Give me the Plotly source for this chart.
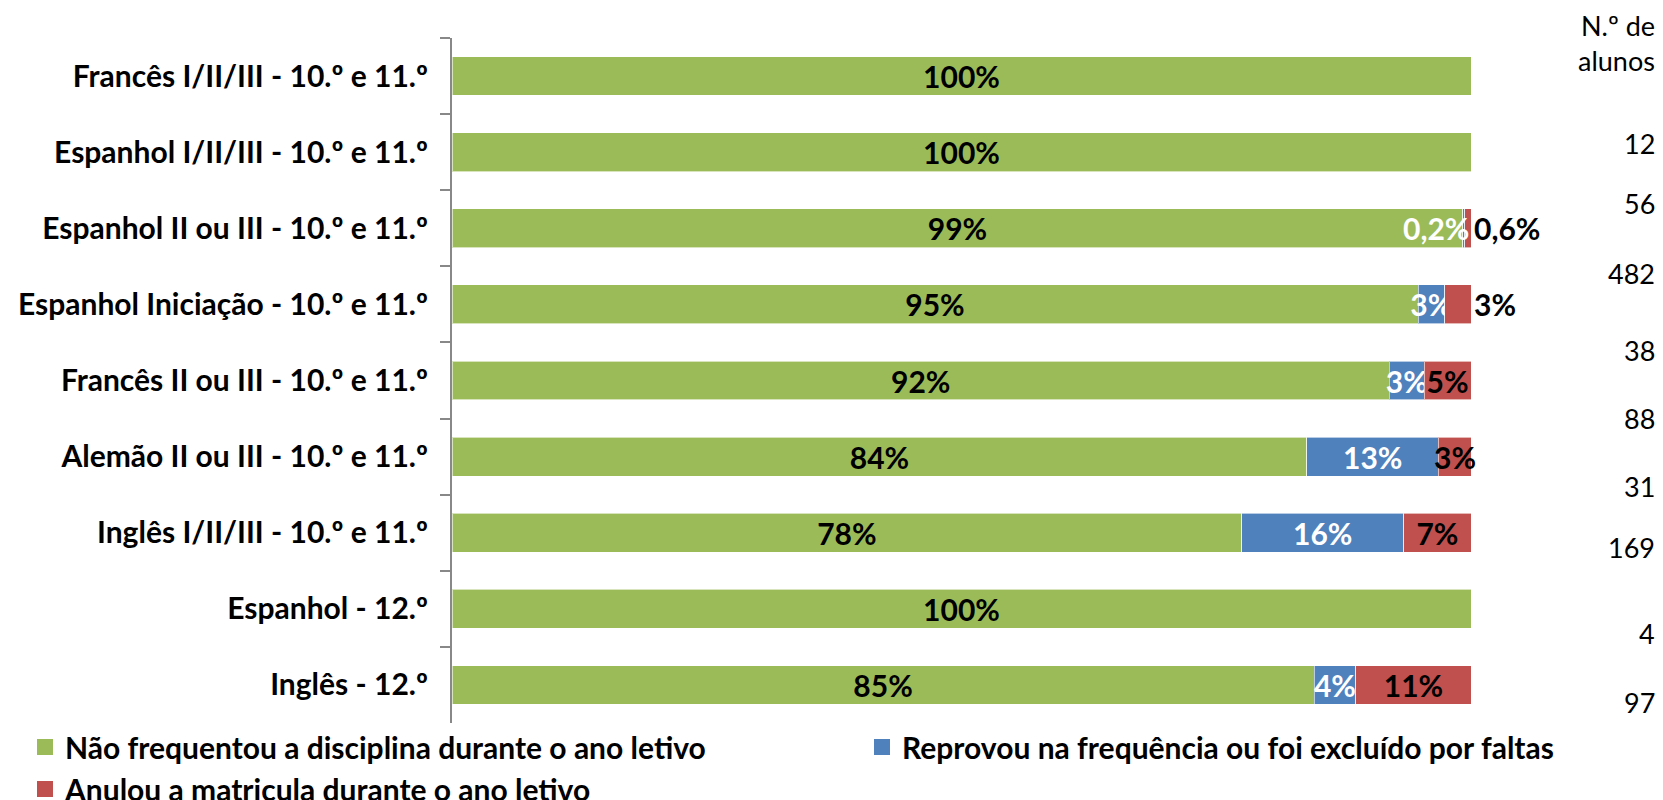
import plotly.graph_objects as go

categories = [
    "Francês I/II/III - 10.º e 11.º",
    "Espanhol I/II/III - 10.º e 11.º",
    "Espanhol II ou III - 10.º e 11.º",
    "Espanhol Iniciação - 10.º e 11.º",
    "Francês II ou III - 10.º e 11.º",
    "Alemão II ou III - 10.º e 11.º",
    "Inglês I/II/III - 10.º e 11.º",
    "Espanhol - 12.º",
    "Inglês - 12.º",
]
nao_frequentou = [100, 100, 99.2, 94.8, 92.0, 83.9, 77.5, 100, 84.6]
reprovou = [0, 0, 0.2, 2.6, 3.4, 12.9, 15.9, 0, 4.1]
anulou = [0, 0, 0.6, 2.6, 4.6, 3.2, 6.6, 0, 11.3]
n_alunos = [12, 56, 482, 38, 88, 31, 169, 4, 97]

series_names = [
    "Não frequentou a disciplina durante o ano letivo",
    "Reprovou na frequência ou foi excluído por faltas",
    "Anulou a matricula durante o ano letivo",
]

# ---- layout / style ----
W, H = 1663, 800
ML, MR, MT, MB = 452, 192, 38, 77
PW, PH = W - ML - MR, H - MT - MB
GREEN, BLUE, RED = "#9BBB59", "#4F81BD", "#C0504D"
FONT = "Lato"
FS = 30
count_y_px = [144, 203, 273, 350, 418, 487, 547, 633, 702]
COUNT_X_PX = 1657


def fmt(v):
    if v <= 0:
        return ""
    if v < 1:
        return f"{v:.1f}%".replace(".", ",")
    return f"{round(v):.0f}%"


def px2paper_y(ypx):
    return (H - MB - ypx) / PH


def px2paper_x(xpx):
    return (xpx - ML) / PW


fig = go.Figure()

bar_line = dict(color="rgba(255,255,255,0.6)", width=1)

fig.add_trace(go.Bar(
    y=categories, x=nao_frequentou, orientation="h", name=series_names[0],
    marker=dict(color=GREEN, line=bar_line),
    text=[fmt(v) for v in nao_frequentou], textposition="inside",
    insidetextanchor="middle", textangle=0, constraintext="none",
    textfont=dict(family=FONT, size=FS, weight=700, color="black"),
    showlegend=False, cliponaxis=False, hoverinfo="skip",
))
blue_text = [fmt(v) if v >= 1 else "" for v in reprovou]
fig.add_trace(go.Bar(
    y=categories, x=reprovou, orientation="h", name=series_names[1],
    marker=dict(color=BLUE, line=bar_line),
    text=blue_text, textposition="inside", insidetextanchor="middle",
    textangle=0, constraintext="none",
    textfont=dict(family=FONT, size=FS, weight=700, color="white"),
    showlegend=False, cliponaxis=False, hoverinfo="skip",
))

# red labels: tiny segments -> outside; narrow-but-inside -> annotation; others -> bar text
red_outside = [(0 < v < 2.8 and b < 3) for v, b in zip(anulou, reprovou)]
red_narrow = [(not o and 0 < v < 4) for v, o in zip(anulou, red_outside)]
red_text = ["" if n else fmt(v) for v, n in zip(anulou, red_narrow)]
fig.add_trace(go.Bar(
    y=categories, x=anulou, orientation="h", name=series_names[2],
    marker=dict(color=RED, line=bar_line),
    text=red_text, textposition=["outside" if o else "inside" for o in red_outside],
    insidetextanchor="middle", textangle=0, constraintext="none",
    textfont=dict(family=FONT, size=FS, weight=700, color="black"),
    outsidetextfont=dict(family=FONT, size=FS, weight=700, color="black"),
    showlegend=False, cliponaxis=False, hoverinfo="skip",
))

# legend entries (square swatches)
for name, col, lg in [(series_names[0], GREEN, "legend"),
                      (series_names[2], RED, "legend"),
                      (series_names[1], BLUE, "legend2")]:
    fig.add_trace(go.Scatter(
        x=[None], y=[None], mode="markers", name=name, legend=lg,
        legendgroup=name,
        marker=dict(symbol="square", size=16, color=col),
        hoverinfo="skip",
    ))

annotations = []
for cat, g, b, r, n in zip(categories, nao_frequentou, reprovou, anulou, red_narrow):
    if 0 < b < 1:
        annotations.append(dict(
            x=g + b + r, y=cat, xref="x", yref="y", text=fmt(b),
            showarrow=False, xanchor="right", yanchor="middle",
            font=dict(family=FONT, size=FS, weight=700, color="white"),
        ))
    if n:
        annotations.append(dict(
            x=g + b + r / 2, y=cat, xref="x", yref="y", text=fmt(r),
            showarrow=False, xanchor="center", yanchor="middle",
            font=dict(family=FONT, size=FS, weight=700, color="black"),
        ))

cx = px2paper_x(COUNT_X_PX)
for txt, ypx in [("N.º de", 25), ("alunos", 60)]:
    annotations.append(dict(x=cx, y=px2paper_y(ypx), xref="paper", yref="paper",
                            xanchor="right", yanchor="middle", showarrow=False,
                            text=txt, font=dict(family=FONT, size=27, color="black")))
for n, ypx in zip(n_alunos, count_y_px):
    annotations.append(dict(
        x=cx, y=px2paper_y(ypx), xref="paper", yref="paper",
        xanchor="right", yanchor="middle", showarrow=False,
        text=str(n), font=dict(family=FONT, size=27, color="black"),
    ))

fig.update_layout(
    width=W, height=H,
    margin=dict(l=ML, r=MR, t=MT, b=MB, pad=0, autoexpand=False),
    paper_bgcolor="white", plot_bgcolor="white",
    barmode="stack", bargap=0.49,
    uniformtext=dict(minsize=FS - 1, mode="show"),
    annotations=annotations,
    xaxis=dict(range=[0, 100], showticklabels=False, showgrid=False,
               zeroline=False, showline=False, ticks="", fixedrange=True),
    yaxis=dict(
        type="category", categoryorder="array", categoryarray=categories,
        autorange="reversed", tickson="boundaries",
        ticks="outside", ticklen=10, tickwidth=2, tickcolor="#888888",
        showline=True, linecolor="#888888", linewidth=2,
        showgrid=False, zeroline=False, ticklabelstandoff=16,
        tickfont=dict(family=FONT, size=FS, weight=700, color="black"),
    ),
    legend=dict(
        orientation="v", xref="container", yref="container",
        x=25 / W, y=1 - 721 / H, xanchor="left", yanchor="top",
        traceorder="normal",
        font=dict(family=FONT, size=FS, weight=700, color="black"),
        tracegroupgap=0, bgcolor="rgba(0,0,0,0)",
    ),
    legend2=dict(
        orientation="v", xref="container", yref="container",
        x=862 / W, y=1 - 721 / H, xanchor="left", yanchor="top",
        font=dict(family=FONT, size=FS, weight=700, color="black"),
        bgcolor="rgba(0,0,0,0)",
    ),
)

fig.write_html(
    "out.html",
    config={"displayModeBar": False},
    post_script="document.body.style.margin='0';document.body.style.overflow='hidden';",
)
